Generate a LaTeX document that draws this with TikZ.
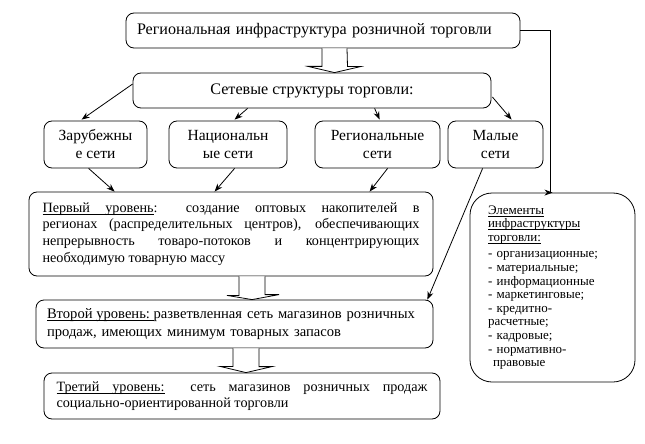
\documentclass[tikz,border=0pt]{standalone}
\usepackage{fontspec}
\setmainfont{Liberation Serif}
\usetikzlibrary{arrows.meta,calc}
\newcommand{\mainfs}{\fontsize{16.1}{16.7}\selectfont}
\newcommand{\rowfs}{\fontsize{15.5}{18}\selectfont}
\newcommand{\levfs}{\fontsize{14.2}{16.7}\selectfont}
\newcommand{\levbfs}{\fontsize{14.6}{17.5}\selectfont}
\newcommand{\smallfs}{\fontsize{13}{13.6}\selectfont}
\newcommand{\ulw}[1]{\setbox0\hbox{#1}\leavevmode\rlap{\vrule width \wd0 height -1.6pt depth 2.5pt}\box0}
\newcommand{\ulsp}{\leaders\hrule height -1.6pt depth 2.5pt\hskip\fontdimen2\font plus \fontdimen3\font minus \fontdimen4\font\relax}
\begin{document}
\begin{tikzpicture}[x=1pt,y=-1pt,line width=0.8pt,
  box/.style={draw,rounded corners=8pt,inner sep=0pt,font=\mainfs},
  rowbox/.style={box,align=center,font=\rowfs},
  textbox/.style={box,inner xsep=0pt,font=\levfs,
    execute at begin node={\hyphenpenalty=10000\exhyphenpenalty=10000\tolerance=9999\pretolerance=-1}},
  arr/.style={-{Stealth[length=8pt,width=6pt]}},
  blockarr/.style={fill=white}]
\useasboundingbox (0,0) rectangle (645,444);

% top
\node[box,minimum width=394pt,minimum height=35pt,text width=372pt,align=left] (top) at (323,30.5)
  {Региональная инфраструктура розничной торговли};
% network structures
\node[box,minimum width=358pt,minimum height=35pt,align=center] (sieve) at (312,90.5)
  {Сетевые структуры торговли:};
% row boxes
\node[rowbox,minimum width=103pt,minimum height=47pt] (zar) at (95.5,144.5) {Зарубежны\\е сети};
\node[rowbox,minimum width=118pt,minimum height=47pt] (nat) at (228,144.5) {Национальн\\ые сети};
\node[rowbox,minimum width=125pt,minimum height=47pt] (reg) at (377.5,144.5) {Региональные\\сети};
\node[rowbox,minimum width=95pt,minimum height=47pt] (mal) at (495.5,144.5) {Малые\\сети};
% levels
\node[textbox,minimum width=404pt,minimum height=84pt,text width=377pt,align=justify] (lev1) at (231,234)
  {\ulw{Первый}\ulsp\ulw{уровень}: создание оптовых накопителей в\linebreak
   регионах (распределительных центров), обеспечивающих\linebreak
   непрерывность товаро-потоков и концентрирующих\linebreak
   необходимую товарную массу};
\node[textbox,font=\levbfs,minimum width=397pt,minimum height=48pt,text width=375pt,align=left] (lev2) at (234.5,324)
  {\ulw{Второй}\ulsp\ulw{уровень:}\ulsp разветвленная сеть магазинов розничных\\
   продаж, имеющих минимум товарных запасов};
\node[textbox,minimum width=396pt,minimum height=46pt,text width=371pt,align=justify] (lev3) at (242,396)
  {\ulw{Третий}\ulsp\ulw{уровень:}\ \ сеть магазинов розничных продаж\linebreak
   социально-ориентированной торговли};
% elements
\node[draw,rounded corners=22pt,minimum width=165pt,minimum height=189pt,inner sep=0pt,
      text width=129pt,align=left,font=\smallfs] (elem) at (552.5,287.5)
  {\ulw{Элементы}\\
   \ulw{инфраструктуры}\\
   \ulw{торговли:}\\[3pt]
   - организационные;\\
   - материальные;\\
   - информационные\\
   - маркетинговые;\\
   - кредитно-\\
   расчетные;\\
   - кадровые;\\
   - нормативно-\\
   \hspace*{5pt}правовые};

% arrows from network structures
\draw[arr] ($(sieve.west)+(0,-6.5)$) -- ($(zar.north west)+(38,-1)$);
\draw[arr] ($(sieve.south west)+(115,0)$) -- ($(nat.north west)+(66,-1)$);
\draw[arr] ($(sieve.south west)+(242,0)$) -- ($(reg.north west)+(65,-1)$);
\draw[arr] ($(sieve.east)+(1,6.5)$) -- ($(mal.north west)+(64,-1)$);
% arrows to first level
\draw[arr] ($(zar.south west)+(45,0)$) -- ($(lev1.north west)+(86,0)$);
\draw[arr] ($(nat.south west)+(66,0)$) -- ($(lev1.north west)+(186,0)$);
\draw[arr] ($(reg.south west)+(73,0)$) -- ($(lev1.north west)+(341,0)$);
% small networks to second level
\draw[arr] ($(mal.south west)+(35,0)$) -- ($(lev2.north east)+(-6,0)$);
% top to elements
\draw[arr] (top.east) -- ($(top.east)+(30,0)$) |- ($(elem.north)+(-2.5,0)$) -- (elem.north);
% block arrows
\draw[blockarr] ($(top.south)+(-1,0)$) -- ++(0,18) -- ++(-14,0) -- ($(sieve.north)+(22.5,0)$)
  -- ++(26,-6) -- ++(-13,0) -- ($(top.south)+(24,0)$);
\draw[blockarr] ($(lev1.south)+(8,0)$) -- ++(0,19) -- ++(-12,0) -- ($(lev2.north)+(17.5,0)$)
  -- ++(27,-5) -- ++(-14,0) -- ($(lev1.south)+(34,0)$);
\draw[blockarr] ($(lev2.south)+(-1.5,0)$) -- ++(0,18) -- ++(-13,0) -- ($(lev3.north)+(4,0)$)
  -- ++(26,-6) -- ++(-13,0) -- ($(lev2.south)+(24.5,0)$);
\end{tikzpicture}
\end{document}
